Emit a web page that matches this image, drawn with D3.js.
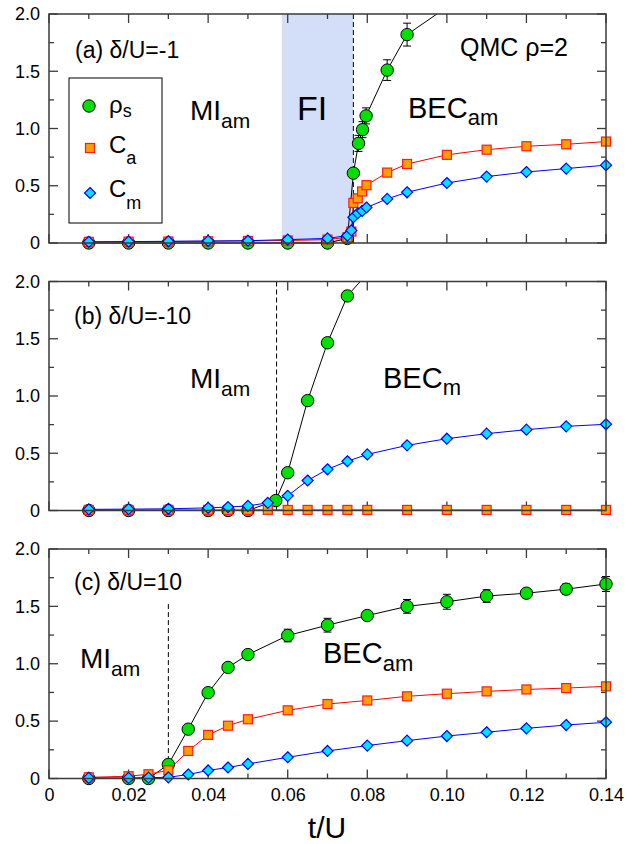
<!DOCTYPE html>
<html>
<head>
<meta charset="utf-8">
<script src="https://cdn.jsdelivr.net/npm/d3@7"></script>
<style>
  html, body { margin: 0; padding: 0; background: #fff; }
  svg { display: block; font-family: "Liberation Sans", Arial, sans-serif; }
</style>
</head>
<body>
<svg id="chart" width="639" height="844"></svg>
<script>
// ---------------- DATA ----------------
const xTickValues = [0, 0.02, 0.04, 0.06, 0.08, 0.10, 0.12, 0.14];
const xTickLabels = ["0", "0.02", "0.04", "0.06", "0.08", "0.10", "0.12", "0.14"];
const yTickValues = [0, 0.5, 1.0, 1.5, 2.0];
const yTickLabels = ["0", "0.5", "1.0", "1.5", "2.0"];

// Panel (a) delta/U = -1
const aRhoT = [0.01, 0.02, 0.03, 0.04, 0.05, 0.06, 0.07, 0.075, 0.0765, 0.0778, 0.0788, 0.0797, 0.085, 0.09, 0.10];
const aRhoV = [0, 0, 0, 0, 0, 0, 0, 0.04, 0.61, 0.87, 0.99, 1.11, 1.51, 1.82, 2.06];
const aRhoE = [0, 0, 0, 0, 0, 0, 0, 0.01, 0.03, 0.07, 0.07, 0.07, 0.09, 0.10, 0];
const aCT   = [0.01, 0.02, 0.03, 0.04, 0.05, 0.06, 0.07, 0.075, 0.076, 0.0765, 0.0776, 0.0787, 0.0798, 0.085, 0.09, 0.10, 0.11, 0.12, 0.13, 0.14];
const aCaV  = [0.01, 0.012, 0.013, 0.015, 0.018, 0.022, 0.03, 0.05, 0.10, 0.35, 0.39, 0.45, 0.505, 0.615, 0.69, 0.77, 0.815, 0.845, 0.862, 0.886];
const aCmV  = [0.01, 0.012, 0.015, 0.018, 0.02, 0.03, 0.04, 0.065, 0.11, 0.225, 0.26, 0.28, 0.31, 0.385, 0.443, 0.524, 0.58, 0.62, 0.65, 0.68];

// Panel (b) delta/U = -10
const bRhoT = [0.01, 0.02, 0.03, 0.04, 0.045, 0.05, 0.057, 0.06, 0.065, 0.07, 0.075, 0.08];
const bRhoV = [0, 0, 0, 0, 0, 0, 0.087, 0.33, 0.96, 1.465, 1.874, 2.07];
const bRhoE = [0, 0, 0, 0, 0, 0, 0, 0, 0, 0, 0, 0];
const bCT   = [0.01, 0.02, 0.03, 0.04, 0.045, 0.05, 0.055, 0.06, 0.065, 0.07, 0.075, 0.08, 0.09, 0.10, 0.11, 0.12, 0.13, 0.14];
const bCaV  = [0.005, 0.005, 0.005, 0.005, 0.005, 0.005, 0.006, 0.005, 0.005, 0.005, 0.005, 0.005, 0.005, 0.005, 0.005, 0.005, 0.005, 0.005];
const bCmV  = [0.01, 0.012, 0.015, 0.023, 0.03, 0.04, 0.067, 0.128, 0.262, 0.36, 0.43, 0.49, 0.569, 0.627, 0.671, 0.706, 0.735, 0.753];

// Panel (c) delta/U = 10
const cT    = [0.01, 0.02, 0.025, 0.03, 0.035, 0.04, 0.045, 0.05, 0.06, 0.07, 0.08, 0.09, 0.10, 0.11, 0.12, 0.13, 0.14];
const cRhoV = [0, 0, 0, 0.122, 0.43, 0.748, 0.968, 1.08, 1.246, 1.336, 1.42, 1.50, 1.54, 1.59, 1.615, 1.65, 1.695];
const cRhoE = [0, 0, 0, 0, 0, 0, 0, 0, 0.055, 0.06, 0, 0.06, 0.065, 0.055, 0.04, 0.045, 0.065];
const cCaV  = [0.01, 0.02, 0.037, 0.072, 0.24, 0.38, 0.46, 0.516, 0.594, 0.649, 0.68, 0.716, 0.739, 0.759, 0.776, 0.788, 0.803];
const cCmV  = [0.005, 0.005, 0.008, 0.01, 0.035, 0.07, 0.096, 0.127, 0.185, 0.24, 0.287, 0.33, 0.37, 0.403, 0.437, 0.466, 0.49];

// Phase boundaries
const aFIRange = [0.0585, 0.0765];
const aDash = 0.0765;
const bDash = 0.0572;
const cDash = 0.03;
const cDashTop = 1.52;

// ---------------- DRAW ----------------
const svg = d3.select("#chart");
const LEFT = 49, RIGHT = 606;
const FRAME = "#3a3a3a";
const GREEN = "#00e000", ORANGE = "#ffa000", CYAN = "#00e0ff";

const zip = (t, v, e) => t.map((x, i) => ({ t: x, v: v[i], e: e ? e[i] : 0 }));

function panel(cfg, idx) {
  const top = cfg.top, bottom = cfg.bottom;
  const x = d3.scaleLinear().domain([0, 0.14]).range([LEFT, RIGHT]);
  const y = d3.scaleLinear().domain([0, 2]).range([bottom, top]);
  const g = svg.append("g");

  const clipId = "clip" + idx;
  svg.append("clipPath").attr("id", clipId)
    .append("rect").attr("x", LEFT - 12).attr("y", top)
    .attr("width", RIGHT - LEFT + 24).attr("height", bottom - top + 12);
  const lineClipId = "lclip" + idx;
  svg.append("clipPath").attr("id", lineClipId)
    .append("rect").attr("x", LEFT).attr("y", top)
    .attr("width", RIGHT - LEFT).attr("height", bottom - top + 3);

  if (cfg.shade) {
    g.append("rect")
      .attr("x", x(cfg.shade[0])).attr("y", top)
      .attr("width", x(cfg.shade[1]) - x(cfg.shade[0]))
      .attr("height", bottom - top)
      .attr("fill", "#d3dff8");
  }
  g.append("line")
    .attr("x1", x(cfg.dash)).attr("x2", x(cfg.dash))
    .attr("y1", y(cfg.dashTop)).attr("y2", bottom)
    .attr("stroke", "#000").attr("stroke-width", 1)
    .attr("stroke-dasharray", "5,3");

  const axG = g.append("g").attr("stroke", FRAME).attr("stroke-width", 1.3);
  const xMinor = d3.range(0, 0.1401, 0.01);
  xMinor.forEach((v, i) => {
    const len = (i % 2 === 0) ? 9 : 5;
    axG.append("line").attr("x1", x(v)).attr("x2", x(v)).attr("y1", bottom).attr("y2", bottom - len);
    axG.append("line").attr("x1", x(v)).attr("x2", x(v)).attr("y1", top).attr("y2", top + len);
  });
  const yMinor = d3.range(0, 2.001, 0.25);
  yMinor.forEach((v, i) => {
    const len = (i % 2 === 0) ? 9 : 5;
    axG.append("line").attr("x1", LEFT).attr("x2", LEFT + len).attr("y1", y(v)).attr("y2", y(v));
    axG.append("line").attr("x1", RIGHT).attr("x2", RIGHT - len).attr("y1", y(v)).attr("y2", y(v));
  });

  const yAxis = d3.axisLeft(y).tickValues(yTickValues)
    .tickFormat((d, i) => yTickLabels[i]).tickSize(0).tickPadding(9);
  const yg = g.append("g").attr("transform", `translate(${LEFT},0)`).call(yAxis);
  yg.select(".domain").remove();
  yg.selectAll("text").attr("font-size", 18).attr("fill", "#000")
    .attr("font-family", "Liberation Sans, Arial, sans-serif");

  if (cfg.xLabels) {
    const xAxis = d3.axisBottom(x).tickValues(xTickValues)
      .tickFormat((d, i) => xTickLabels[i]).tickSize(0).tickPadding(10);
    const xg = g.append("g").attr("transform", `translate(0,${bottom})`).call(xAxis);
    xg.select(".domain").remove();
    xg.selectAll("text").attr("font-size", 18).attr("fill", "#000")
      .attr("font-family", "Liberation Sans, Arial, sans-serif");
  }

  const line = d3.line().x(d => x(d.t)).y(d => y(d.v));
  const series = [
    { data: cfg.rho, stroke: "#000", kind: "circle" },
    { data: cfg.ca, stroke: "#ff0000", kind: "square" },
    { data: cfg.cm, stroke: "#0000ff", kind: "diamond" }
  ];
  series.forEach(s => {
    g.append("path").datum(s.data).attr("d", line)
      .attr("fill", "none").attr("stroke", s.stroke).attr("stroke-width", 1)
      .attr("clip-path", `url(#${lineClipId})`);
  });
  series.forEach(s => {
    const mg = g.append("g").attr("clip-path", `url(#${clipId})`);
    if (s.kind === "circle") {
      s.data.filter(d => d.e > 0.015).forEach(d => {
        const eg = mg.append("g").attr("stroke", "#000").attr("stroke-width", 1);
        eg.append("line").attr("x1", x(d.t)).attr("x2", x(d.t)).attr("y1", y(d.v - d.e)).attr("y2", y(d.v + d.e));
        eg.append("line").attr("x1", x(d.t) - 4).attr("x2", x(d.t) + 4).attr("y1", y(d.v - d.e)).attr("y2", y(d.v - d.e));
        eg.append("line").attr("x1", x(d.t) - 4).attr("x2", x(d.t) + 4).attr("y1", y(d.v + d.e)).attr("y2", y(d.v + d.e));
      });
      mg.selectAll("circle").data(s.data).join("circle")
        .attr("cx", d => x(d.t)).attr("cy", d => y(d.v)).attr("r", 6.2)
        .attr("fill", GREEN).attr("stroke", "#000").attr("stroke-width", 1);
    } else if (s.kind === "square") {
      mg.selectAll("rect").data(s.data).join("rect")
        .attr("x", d => x(d.t) - 4.5).attr("y", d => y(d.v) - 4.5)
        .attr("width", 9).attr("height", 9)
        .attr("fill", ORANGE).attr("stroke", "#ff1a1a").attr("stroke-width", 1.2);
    } else {
      mg.selectAll("path").data(s.data).join("path")
        .attr("d", d => {
          const cx = x(d.t), cy = y(d.v), r = 5.5;
          return `M${cx},${cy - r}L${cx + r},${cy}L${cx},${cy + r}L${cx - r},${cy}Z`;
        })
        .attr("fill", CYAN).attr("stroke", "#0000ff").attr("stroke-width", 1.2);
    }
  });

  g.append("rect").attr("x", LEFT).attr("y", top)
    .attr("width", RIGHT - LEFT).attr("height", bottom - top)
    .attr("fill", "none").attr("stroke", FRAME).attr("stroke-width", 1.5);

  return g;
}

function sub(g, xPos, yPos, main, subText, size, subSize, shift) {
  const t = g.append("text").attr("x", xPos).attr("y", yPos)
    .attr("font-size", size).attr("fill", "#000");
  t.append("tspan").text(main);
  t.append("tspan").attr("dy", shift).attr("font-size", subSize).text(subText);
  return t;
}
function label(g, xPos, yPos, txt, size) {
  return g.append("text").attr("x", xPos).attr("y", yPos)
    .attr("font-size", size).attr("fill", "#000").text(txt);
}

// Panel (a)
const ga = panel({
  top: 14, bottom: 243,
  shade: aFIRange, dash: aDash, dashTop: 2,
  rho: zip(aRhoT, aRhoV, aRhoE), ca: zip(aCT, aCaV), cm: zip(aCT, aCmV)
}, 0);
label(ga, 75, 58, "(a) δ/U=-1", 23);
label(ga, 460, 56, "QMC ρ=2", 25);
sub(ga, 190, 120, "MI", "am", 28, 21, 8);
label(ga, 297, 120, "FI", 34);
sub(ga, 408, 118, "BEC", "am", 29, 22, 7);

// legend
const lg = ga.append("g");
lg.append("rect").attr("x", 69).attr("y", 78).attr("width", 93).attr("height", 145)
  .attr("fill", "#fff").attr("stroke", "#000").attr("stroke-width", 1);
lg.append("circle").attr("cx", 89).attr("cy", 106).attr("r", 6.2)
  .attr("fill", GREEN).attr("stroke", "#000");
lg.append("rect").attr("x", 85.5).attr("y", 143.5).attr("width", 9).attr("height", 9)
  .attr("fill", ORANGE).attr("stroke", "#ff1a1a").attr("stroke-width", 1.2);
lg.append("path").attr("d", "M90,187.5L95.5,193L90,198.5L84.5,193Z")
  .attr("fill", CYAN).attr("stroke", "#0000ff").attr("stroke-width", 1.2);
sub(lg, 109, 113, "ρ", "s", 24, 18, 4);
sub(lg, 109, 153, "C", "a", 24, 18, 11);
sub(lg, 109, 197, "C", "m", 24, 18, 12);

// Panel (b)
const gb = panel({
  top: 281.5, bottom: 510.5,
  dash: bDash, dashTop: 2,
  rho: zip(bRhoT, bRhoV, bRhoE), ca: zip(bCT, bCaV), cm: zip(bCT, bCmV)
}, 1);
label(gb, 74, 324, "(b) δ/U=-10", 23);
sub(gb, 190, 388, "MI", "am", 28, 21, 8);
sub(gb, 383, 388, "BEC", "m", 29, 22, 7);

// Panel (c)
const gc = panel({
  top: 549, bottom: 778.5,
  dash: cDash, dashTop: cDashTop,
  rho: zip(cT, cRhoV, cRhoE), ca: zip(cT, cCaV), cm: zip(cT, cCmV),
  xLabels: true
}, 2);
label(gc, 74, 590, "(c) δ/U=10", 23);
sub(gc, 80, 668, "MI", "am", 28, 21, 8);
sub(gc, 323, 663, "BEC", "am", 29, 22, 8);

svg.append("text").attr("x", 327).attr("y", 838).attr("text-anchor", "middle")
  .attr("font-size", 30).attr("fill", "#000").text("t/U");
</script>
</body>
</html>
